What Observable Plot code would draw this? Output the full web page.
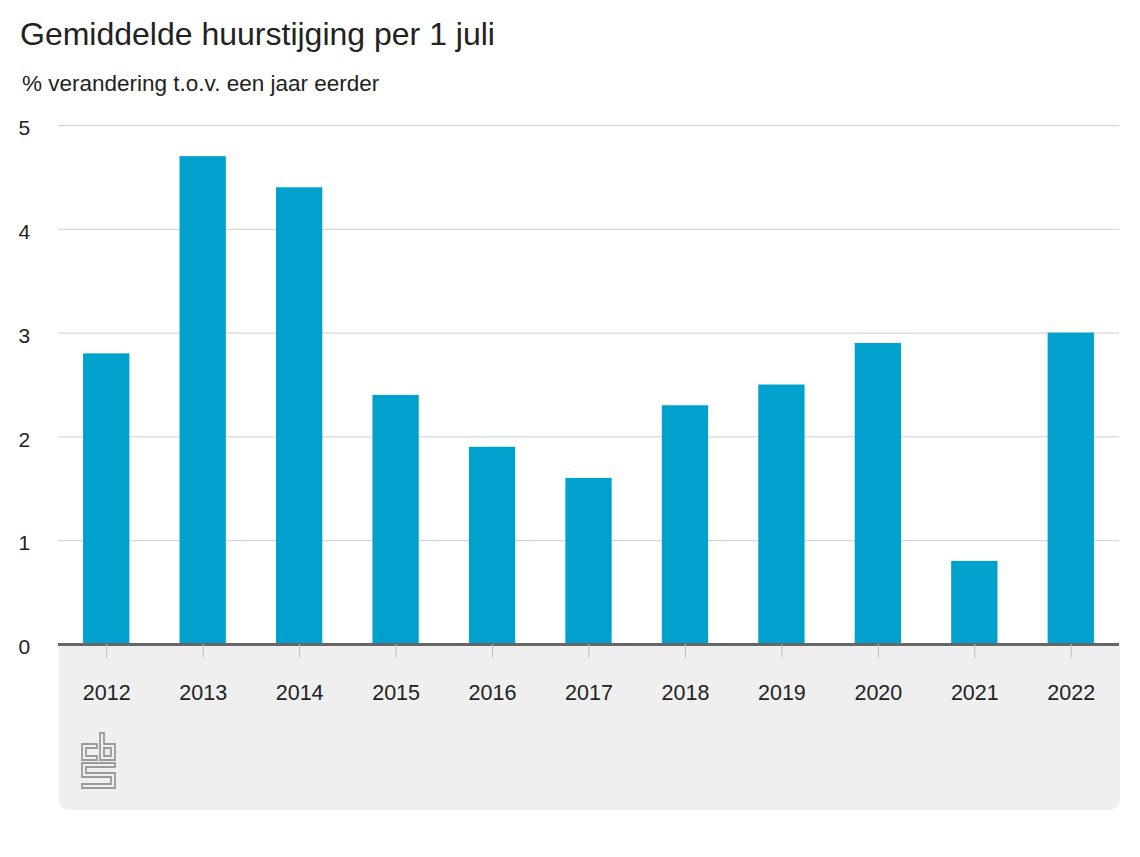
<!DOCTYPE html>
<html>
<head>
<meta charset="utf-8">
<script src="https://cdn.jsdelivr.net/npm/d3@7"></script>
<script src="https://cdn.jsdelivr.net/npm/@observablehq/plot@0.6"></script>
<style>
  body { margin: 0; background: #fff; font-family: "Liberation Sans", Arial, sans-serif; color: #222; }
  #wrap { position: relative; width: 1140px; height: 857px; overflow: hidden; }
  #title { position: absolute; left: 20px; top: 18px; font-size: 32px; line-height: 32px; white-space: nowrap; }
  #subtitle { position: absolute; left: 22px; top: 73px; font-size: 22.5px; line-height: 22.5px; white-space: nowrap; }
  #panel { position: absolute; left: 59px; top: 644px; width: 1061px; height: 166px; background: #efefef; border-radius: 0 0 10px 10px; }
  #logo { position: absolute; left: 22px; top: 88px; }
  #chart { position: absolute; left: 0; top: 110px; }
</style>
</head>
<body>
<div id="wrap">
  <div id="title">Gemiddelde huurstijging per 1 juli</div>
  <div id="subtitle">% verandering t.o.v. een jaar eerder</div>
  <div id="panel">
    <svg id="logo" width="35" height="57" viewBox="-1 -1 35 57">
      <g fill="none" stroke="#9a9a9a" stroke-width="1.8" stroke-linejoin="miter">
        <path d="M15,11 H0 V27 H15 V23 H4 V15 H15 Z"/>
        <path d="M18,0 H22 V11 H33 V27 H18 Z"/>
        <path d="M22,15 H29 V23 H22 Z"/>
        <path d="M0,30 H33 V34 H4 V40 H33 V55 H0 V51 H29 V44 H0 Z"/>
      </g>
    </svg>
  </div>
  <div id="chart"></div>
</div>
<script>
const years = ["2012","2013","2014","2015","2016","2017","2018","2019","2020","2021","2022"];
const values = [2.8, 4.7, 4.4, 2.4, 1.9, 1.6, 2.3, 2.5, 2.9, 0.8, 3.0];
const yTicks = [0, 1, 2, 3, 4, 5];

const data = years.map((year, i) => ({year, value: values[i]}));

const plot = Plot.plot({
  width: 1140,
  height: 747,
  marginTop: 15,
  marginBottom: 213,
  marginLeft: 58,
  marginRight: 21,
  style: { background: "transparent", fontFamily: "'Liberation Sans', Arial, sans-serif", color: "#222" },
  x: { domain: years, paddingInner: 0.52, paddingOuter: 0.26, round: false, label: null },
  y: { domain: [0, 5], label: null },
  marks: [
    Plot.gridY(yTicks, { stroke: "#cfcfcf", strokeOpacity: 1, strokeWidth: 1 }),
    Plot.barY(data, { x: "year", y: "value", fill: "#00a1cd" }),
    Plot.ruleY([0], { stroke: "#666", strokeWidth: 3 }),
    Plot.axisY(yTicks, { tickSize: 0, tickPadding: 40, textAnchor: "start", fontSize: 21, dy: 3, tickFormat: d3.format("d"), label: null }),
    Plot.axisX(years, { tickSize: 14, stroke: "#bdbdbd", tickPadding: 26, fontSize: 21.5, label: null })
  ]
});
document.getElementById("chart").appendChild(plot);
</script>
</body>
</html>
